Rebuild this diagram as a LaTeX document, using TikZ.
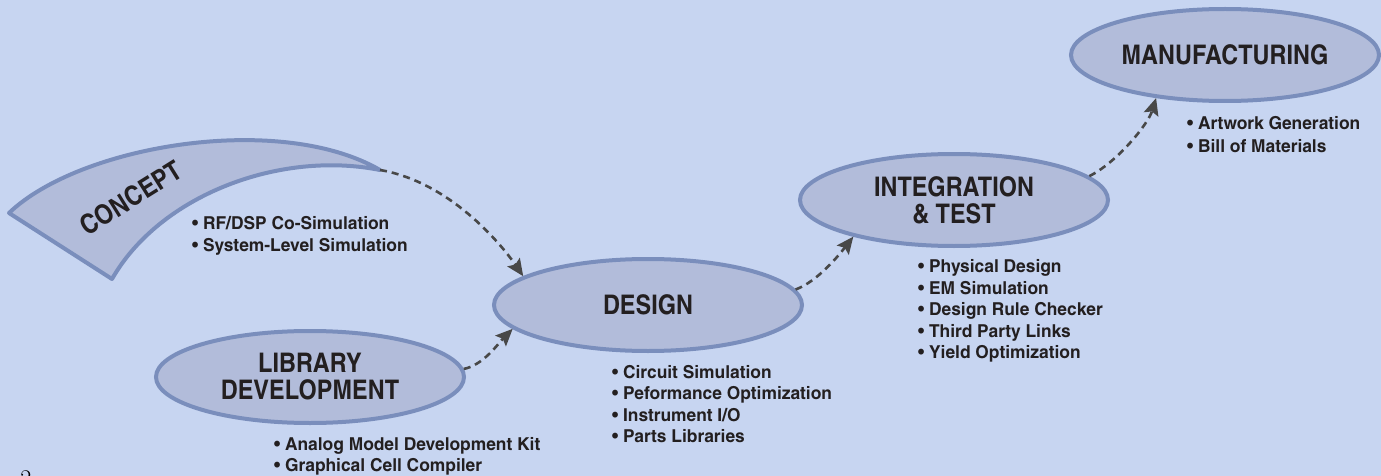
\documentclass[tikz,border=0pt]{standalone}
\usepackage{fontspec}
\newfontfamily\heroscn{texgyreheroscn-bold.otf}[FakeStretch=1.06]
\newfontfamily\heroswide{texgyreheroscn-bold.otf}[FakeStretch=1.19]
\usetikzlibrary{shapes.geometric,arrows.meta}

\definecolor{bgblue}{RGB}{199,213,241}
\definecolor{stagefill}{RGB}{178,188,218}
\definecolor{stageline}{RGB}{122,142,188}
\definecolor{inkgray}{RGB}{35,31,32}
\definecolor{arrowgray}{RGB}{72,72,72}

\tikzset{
  stage/.style={ellipse,draw=stageline,fill=stagefill,line width=4pt,
    minimum width=308pt,minimum height=92pt,inner sep=0pt,align=center,
    text=inkgray,font=\heroscn\fontsize{27}{27}\selectfont},
  item/.style={anchor=base west,inner sep=0pt,text=inkgray,
    font=\heroswide\fontsize{17.8}{21}\selectfont},
  flow/.style={arrowgray,line width=2.6pt,dash pattern=on 7pt off 5pt,
    -{Stealth[length=17pt,width=15pt,inset=3pt]}}
}

\begin{document}
\begin{tikzpicture}[x=1pt,y=-1pt]

\useasboundingbox (0,0) rectangle (1381,476);
\fill[bgblue] (0,0) rectangle (1381,476);

% The stages
\node[stage] (manuf) at (1225,55) {MANUFACTURING};
\node[stage] (integ) at (954,200) {INTEGRATION\\\& TEST};
\node[stage] (design) at (648,305) {DESIGN};
\node[stage] (lib) at (310,377) {LIBRARY\\DEVELOPMENT};

% The concept banner
\draw[draw=stageline,fill=stagefill,line width=4pt,line join=round]
  (9,213) .. controls (80,145) and (280,112) .. (380,170) coordinate (concepttip)
  .. controls (280,150) and (160,195) .. (112,279) -- cycle;
\node[rotate=32,inner sep=0pt,text=inkgray,font=\heroscn\fontsize{27}{27}\selectfont]
  (concept) at (131,198) {CONCEPT};

% The bullet lists
\foreach \txt [count=\i] in {RF/DSP Co-Simulation,System-Level Simulation}
  \node[item] (concept-\i) at (192,{229.5+21.5*(\i-1)}) {• \txt};
\foreach \txt [count=\i] in {Analog Model Development Kit,Graphical Cell Compiler}
  \node[item] (lib-\i) at (274,{450+21.5*(\i-1)}) {• \txt};
\foreach \txt [count=\i] in {Circuit Simulation,Peformance Optimization,Instrument I/O,Parts Libraries}
  \node[item] (design-\i) at (612,{378+21.5*(\i-1)}) {• \txt};
\foreach \txt [count=\i] in {Physical Design,EM Simulation,Design Rule Checker,Third Party Links,Yield Optimization}
  \node[item] (integ-\i) at (918,{272.5+21.5*(\i-1)}) {• \txt};
\foreach \txt [count=\i] in {Artwork Generation,Bill of Materials}
  \node[item] (manuf-\i) at (1187,{130+22.5*(\i-1)}) {• \txt};

% The flow
\draw[flow] (concepttip) .. controls +(70,12) and +(-22,-32) .. (design.167);
\draw[flow] (lib.3) .. controls +(20,-4) and +(-14,14) .. (design.190);
\draw[flow] (design.6) .. controls +(22,-8) and +(-14,18) .. (integ.200);
\draw[flow] (integ.10) .. controls +(28,-14) and +(-8,26) .. (manuf.212);

\node[anchor=base,inner sep=0pt,font=\fontsize{24}{24}\selectfont] (pagenum) at (26,486) {2};

\end{tikzpicture}
\end{document}
